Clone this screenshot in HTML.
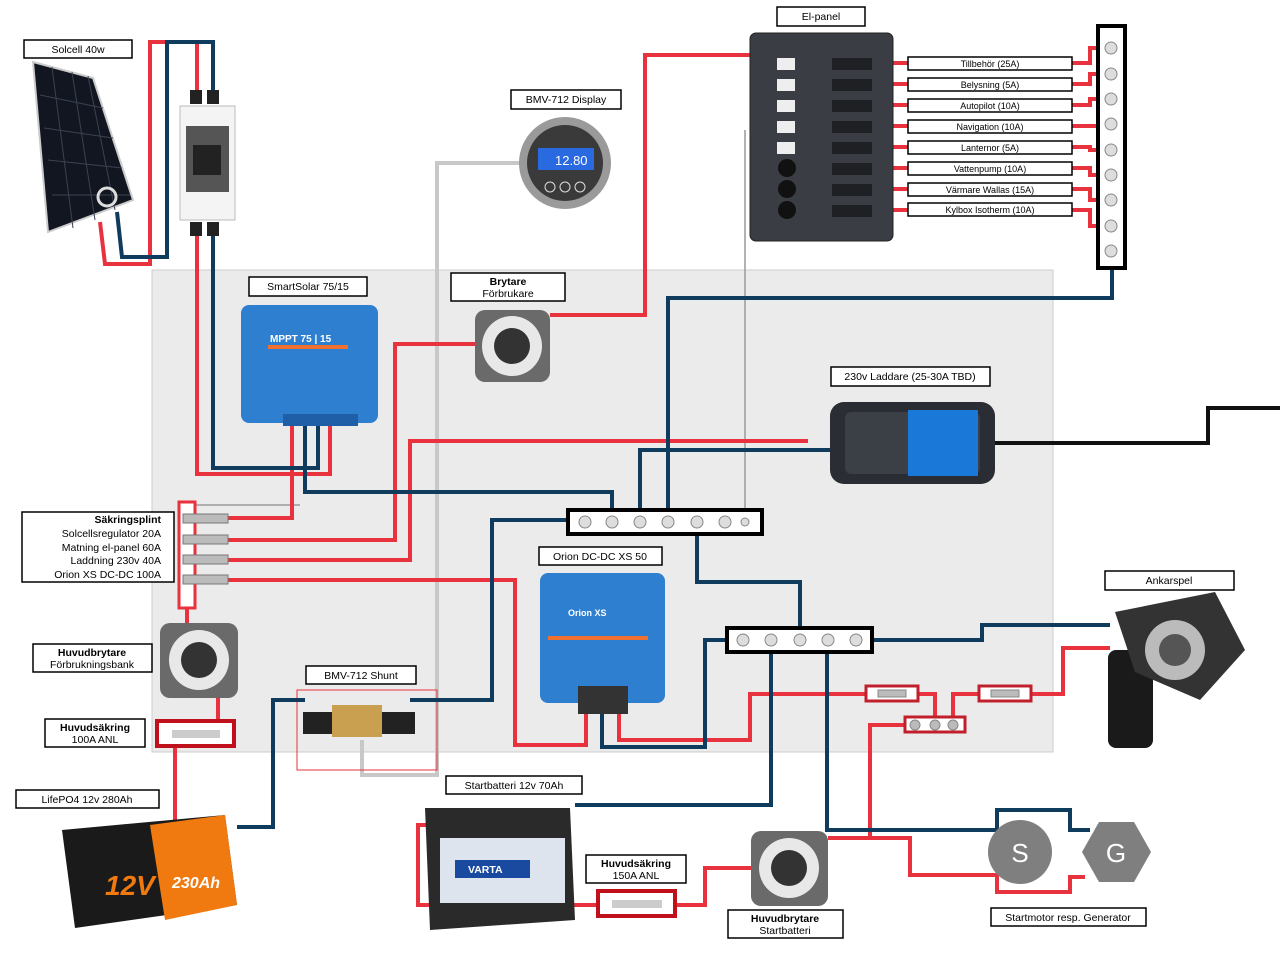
<!DOCTYPE html>
<html><head><meta charset="utf-8"><style>
body{margin:0;background:#fff;font-family:"Liberation Sans",sans-serif}
svg{display:block}
.l{fill:#fff;stroke:#000;stroke-width:1.5}
text{font-family:"Liberation Sans",sans-serif;font-size:10.5px;fill:#000}
.b{font-weight:bold}
.r{fill:none;stroke:#e8323e;stroke-width:4}
.u{fill:none;stroke:#0f3b5c;stroke-width:4}
</style></head><body>
<svg width="1280" height="957" viewBox="0 0 1280 957">
<rect x="152" y="270" width="901" height="482" fill="#ebebeb" stroke="#ccc"/>
<polyline points="520,163 437,163 437,775 362,775 362,740" fill="none" stroke="#c8c8c8" stroke-width="4"/>
<polyline points="745,520 745,130" fill="none" stroke="#999" stroke-width="1.5"/>
<polyline points="180,505 300,505" fill="none" stroke="#999" stroke-width="1.5"/>
<rect x="297" y="690" width="140" height="80" fill="none" stroke="#e8323e" stroke-width="1"/>
<!-- wires red -->
<polyline class="r" points="100,222 105,264 150,264 150,42 197,42 197,95"/>
<polyline class="r" points="197,225 197,474 330,474 330,425"/>
<polyline class="r" points="292,425 292,518 195,518"/>
<polyline class="r" points="195,540 395,540 395,344 475,344"/>
<polyline class="r" points="550,315 645,315 645,55 780,55"/>
<polyline class="r" points="195,560 410,560 410,441 808,441"/>
<polyline class="r" points="195,580 515,580 515,745 586,745 586,710"/>
<polyline class="r" points="619,710 619,740 750,740 750,694 866,694"/>
<polyline class="r" points="918,694 935,694 935,722"/>
<polyline class="r" points="979,694 953,694 953,722"/>
<polyline class="r" points="1032,694 1063,694 1063,648 1110,648"/>
<polyline class="r" points="905,725 870,725 870,838 828,838"/>
<polyline class="r" points="828,838 910,838 910,875 997,875 997,892 1070,892 1070,877 1085,877"/>
<polyline class="r" points="175,820 175,735"/>
<polyline class="r" points="187,608 187,625"/>
<polyline class="r" points="218,690 218,725"/>
<polyline class="r" points="455,825 418,825 418,905 600,905"/>
<polyline class="r" points="676,905 705,905 705,868 752,868"/>
<g class="r"><path d="M893,63H908M893,84H908M893,105H908M893,126H908M893,147H908M893,168H908M893,189H908M893,210H908"/>
<path d="M1072,63H1090V48H1110M1072,84H1090V74H1110M1072,105H1090V99H1110M1072,126H1110M1072,147H1090V150H1110M1072,168H1090V175H1110M1072,189H1090V200H1110M1072,210H1090V226H1110"/></g>
<!-- wires blue -->
<polyline class="u" points="117,212 122,257 167,257 167,42 213,42 213,95"/>
<polyline class="u" points="213,225 213,468 318,468 318,425"/>
<polyline class="u" points="305,425 305,492 612,492 612,520"/>
<polyline class="u" points="830,450 640,450 640,520"/>
<polyline class="u" points="668,520 668,298 1112,298 1112,255"/>
<polyline class="u" points="585,520 492,520 492,700 410,700"/>
<polyline class="u" points="697,535 697,582 800,582 800,640"/>
<polyline class="u" points="305,700 273,700 273,827 237,827"/>
<polyline class="u" points="743,640 705,640 705,747 602,747 602,710"/>
<polyline class="u" points="771,653 771,805 575,805"/>
<polyline class="u" points="827,653 827,830 997,830 997,810 1070,810 1070,830 1090,830"/>
<polyline class="u" points="873,640 982,640 982,625 1110,625"/>
<polyline points="995,443 1208,443 1208,408 1280,408" fill="none" stroke="#111" stroke-width="4"/>
<!-- solar panel -->
<polygon points="33,62 93,78 133,200 48,232" fill="#121620" stroke="#ccc" stroke-width="2"/>
<g stroke="#3a4252" stroke-width="1"><path d="M40,95L103,108M44,128L113,138M48,160L122,168M52,195L130,195"/><path d="M52,67L73,228M72,72L95,220M88,76L115,210"/></g>
<circle cx="107" cy="197" r="9" fill="none" stroke="#ddd" stroke-width="3"/>
<!-- breaker box -->
<rect x="180" y="106" width="55" height="114" fill="#f4f4f4" stroke="#bbb"/>
<rect x="186" y="126" width="43" height="66" fill="#555"/>
<rect x="193" y="145" width="28" height="30" fill="#222"/>
<rect x="190" y="90" width="12" height="14" fill="#222"/><rect x="207" y="90" width="12" height="14" fill="#222"/>
<rect x="190" y="222" width="12" height="14" fill="#222"/><rect x="207" y="222" width="12" height="14" fill="#222"/>
<!-- BMV display -->
<circle cx="565" cy="163" r="46" fill="#9a9a9a"/>
<circle cx="565" cy="163" r="38" fill="#3a3a3a"/>
<rect x="538" y="148" width="56" height="22" fill="#2a6ae0"/>
<text x="555" y="165" style="font-size:13px;fill:#fff">12.80</text>
<circle cx="550" cy="187" r="5" fill="none" stroke="#ddd"/><circle cx="565" cy="187" r="5" fill="none" stroke="#ddd"/><circle cx="580" cy="187" r="5" fill="none" stroke="#ddd"/>
<!-- El panel -->
<rect x="750" y="33" width="143" height="208" rx="6" fill="#3a3d44" stroke="#222"/>
<g fill="#eee"><rect x="777" y="58" width="18" height="12"/><rect x="777" y="79" width="18" height="12"/><rect x="777" y="100" width="18" height="12"/><rect x="777" y="121" width="18" height="12"/><rect x="777" y="142" width="18" height="12"/></g>
<g fill="#111"><circle cx="787" cy="168" r="9"/><circle cx="787" cy="189" r="9"/><circle cx="787" cy="210" r="9"/></g>
<g fill="#1f2024"><rect x="832" y="58" width="40" height="12"/><rect x="832" y="79" width="40" height="12"/><rect x="832" y="100" width="40" height="12"/><rect x="832" y="121" width="40" height="12"/><rect x="832" y="142" width="40" height="12"/><rect x="832" y="163" width="40" height="12"/><rect x="832" y="184" width="40" height="12"/><rect x="832" y="205" width="40" height="12"/></g>
<!-- right busbar -->
<rect x="1098" y="26" width="27" height="242" fill="#fff" stroke="#000" stroke-width="4"/>
<g fill="#ddd" stroke="#888"><circle cx="1111" cy="48" r="6"/><circle cx="1111" cy="74" r="6"/><circle cx="1111" cy="99" r="6"/><circle cx="1111" cy="124" r="6"/><circle cx="1111" cy="150" r="6"/><circle cx="1111" cy="175" r="6"/><circle cx="1111" cy="200" r="6"/><circle cx="1111" cy="226" r="6"/><circle cx="1111" cy="251" r="6"/></g>
<!-- SmartSolar -->
<rect x="241" y="305" width="137" height="118" rx="8" fill="#2f7fd0"/>
<rect x="268" y="345" width="80" height="4" fill="#f07030"/>
<text x="270" y="342" style="fill:#fff;font-size:10px;font-weight:bold">MPPT 75 | 15</text>
<rect x="283" y="414" width="75" height="12" fill="#1e5fa8"/>
<!-- Brytare switch -->
<rect x="475" y="310" width="75" height="72" rx="10" fill="#6a6a6a"/>
<circle cx="512" cy="346" r="30" fill="#e8e8e8"/><circle cx="512" cy="346" r="18" fill="#333"/>
<!-- charger -->
<rect x="830" y="402" width="165" height="82" rx="14" fill="#2a2d33"/>
<rect x="845" y="412" width="135" height="62" rx="6" fill="#3b3f46"/>
<rect x="908" y="410" width="70" height="66" fill="#1a78d8"/>
<!-- mid busbar -->
<rect x="568" y="510" width="194" height="24" fill="#fff" stroke="#000" stroke-width="4"/>
<g fill="#ddd" stroke="#888"><circle cx="585" cy="522" r="6"/><circle cx="612" cy="522" r="6"/><circle cx="640" cy="522" r="6"/><circle cx="668" cy="522" r="6"/><circle cx="697" cy="522" r="6"/><circle cx="725" cy="522" r="6"/><circle cx="745" cy="522" r="4"/></g>
<!-- Orion -->
<rect x="540" y="573" width="125" height="130" rx="8" fill="#2f7fd0"/>
<rect x="548" y="636" width="100" height="4" fill="#f07030"/>
<rect x="578" y="686" width="50" height="28" fill="#333"/>
<text x="568" y="616" style="fill:#fff;font-size:9px;font-weight:bold">Orion XS</text>
<!-- lower busbar -->
<rect x="727" y="628" width="145" height="24" fill="#fff" stroke="#000" stroke-width="4"/>
<g fill="#ddd" stroke="#888"><circle cx="743" cy="640" r="6"/><circle cx="771" cy="640" r="6"/><circle cx="800" cy="640" r="6"/><circle cx="828" cy="640" r="6"/><circle cx="856" cy="640" r="6"/></g>
<!-- small fuses -->
<g fill="#fff" stroke="#c0202c" stroke-width="3"><rect x="866" y="686" width="52" height="15"/><rect x="979" y="686" width="52" height="15"/><rect x="905" y="717" width="60" height="15"/></g>
<g fill="#bbb" stroke="#888"><rect x="878" y="690" width="28" height="7"/><rect x="991" y="690" width="28" height="7"/><circle cx="915" cy="725" r="5"/><circle cx="935" cy="725" r="5"/><circle cx="953" cy="725" r="5"/></g>
<!-- anchor winch -->
<rect x="1108" y="650" width="45" height="98" rx="8" fill="#1a1a1a"/>
<polygon points="1115,612 1215,592 1245,650 1200,700 1135,672" fill="#333"/>
<circle cx="1175" cy="650" r="30" fill="#bbb"/><circle cx="1175" cy="650" r="16" fill="#555"/>
<!-- fuse rail -->
<rect x="179" y="502" width="16" height="106" fill="#fff" stroke="#e8323e" stroke-width="3"/>
<g fill="#bbb" stroke="#777"><rect x="183" y="514" width="45" height="9"/><rect x="183" y="535" width="45" height="9"/><rect x="183" y="555" width="45" height="9"/><rect x="183" y="575" width="45" height="9"/></g>
<!-- huvudbrytare -->
<rect x="160" y="623" width="78" height="75" rx="10" fill="#6a6a6a"/>
<circle cx="199" cy="660" r="30" fill="#e8e8e8"/><circle cx="199" cy="660" r="18" fill="#333"/>
<rect x="157" y="721" width="77" height="25" fill="#fff" stroke="#c0101c" stroke-width="4"/>
<rect x="172" y="730" width="48" height="8" fill="#ccc"/>
<!-- shunt -->
<rect x="303" y="712" width="112" height="22" fill="#222"/><rect x="332" y="705" width="50" height="32" fill="#c9a050"/>
<!-- LiFePO4 -->
<polygon points="62,830 225,815 237,905 75,928" fill="#1a1a1a"/>
<polygon points="150,825 225,815 237,905 165,920" fill="#f07a10"/>
<text x="105" y="895" style="font-size:28px;font-weight:bold;fill:#f07a10;font-style:italic">12V</text>
<text x="172" y="888" style="font-size:16px;font-weight:bold;fill:#fff;font-style:italic">230Ah</text>
<!-- start battery -->
<polygon points="425,808 570,808 575,920 430,930" fill="#2a2a2a"/>
<rect x="440" y="838" width="125" height="65" fill="#dde4ee"/>
<rect x="455" y="860" width="75" height="18" fill="#1a4aa0"/>
<text x="468" y="873" style="fill:#fff;font-weight:bold">VARTA</text>
<!-- fuse 150 -->
<rect x="598" y="891" width="77" height="25" fill="#fff" stroke="#c0101c" stroke-width="4"/>
<rect x="612" y="900" width="50" height="8" fill="#ccc"/>
<!-- start switch -->
<rect x="751" y="831" width="77" height="75" rx="10" fill="#6a6a6a"/>
<circle cx="789" cy="868" r="30" fill="#e8e8e8"/><circle cx="789" cy="868" r="18" fill="#333"/>
<!-- S G -->
<circle cx="1020" cy="852" r="32" fill="#7f7f7f"/>
<text x="1020" y="862" text-anchor="middle" style="font-size:26px;fill:#fff">S</text>
<polygon points="1099,822 1134,822 1151,852 1134,882 1099,882 1082,852" fill="#7f7f7f"/>
<text x="1116" y="862" text-anchor="middle" style="font-size:26px;fill:#fff">G</text>
<!-- labels -->
<rect class="l" x="24" y="40" width="108" height="18"/><text x="78" y="53" text-anchor="middle">Solcell 40w</text>
<rect class="l" x="777" y="7" width="88" height="19"/><text x="821" y="20" text-anchor="middle">El-panel</text>
<rect class="l" x="511" y="90" width="110" height="19"/><text x="566" y="103" text-anchor="middle">BMV-712 Display</text>
<rect class="l" x="249" y="277" width="118" height="19"/><text x="308" y="290" text-anchor="middle">SmartSolar 75/15</text>
<rect class="l" x="451" y="273" width="114" height="28"/><text x="508" y="285" text-anchor="middle" class="b">Brytare</text><text x="508" y="297" text-anchor="middle">Förbrukare</text>
<rect class="l" x="831" y="367" width="159" height="19"/><text x="910" y="380" text-anchor="middle">230v Laddare (25-30A TBD)</text>
<rect class="l" x="22" y="512" width="152" height="70"/>
<text x="161" y="523" text-anchor="end" class="b">Säkringsplint</text><text x="161" y="537" text-anchor="end">Solcellsregulator 20A</text><text x="161" y="551" text-anchor="end">Matning el-panel 60A</text><text x="161" y="564" text-anchor="end">Laddning 230v 40A</text><text x="161" y="578" text-anchor="end">Orion XS DC-DC 100A</text>
<rect class="l" x="539" y="547" width="123" height="18"/><text x="600" y="560" text-anchor="middle">Orion DC-DC XS 50</text>
<rect class="l" x="1105" y="571" width="129" height="19"/><text x="1169" y="584" text-anchor="middle">Ankarspel</text>
<rect class="l" x="33" y="644" width="119" height="28"/><text x="92" y="656" text-anchor="middle" class="b">Huvudbrytare</text><text x="92" y="668" text-anchor="middle">Förbrukningsbank</text>
<rect class="l" x="306" y="666" width="110" height="18"/><text x="361" y="679" text-anchor="middle">BMV-712 Shunt</text>
<rect class="l" x="45" y="719" width="100" height="28"/><text x="95" y="731" text-anchor="middle" class="b">Huvudsäkring</text><text x="95" y="743" text-anchor="middle">100A ANL</text>
<rect class="l" x="16" y="790" width="143" height="18"/><text x="87" y="803" text-anchor="middle">LifePO4 12v 280Ah</text>
<rect class="l" x="446" y="776" width="136" height="18"/><text x="514" y="789" text-anchor="middle">Startbatteri 12v 70Ah</text>
<rect class="l" x="586" y="855" width="100" height="28"/><text x="636" y="867" text-anchor="middle" class="b">Huvudsäkring</text><text x="636" y="879" text-anchor="middle">150A ANL</text>
<rect class="l" x="728" y="910" width="115" height="28"/><text x="785" y="922" text-anchor="middle" class="b">Huvudbrytare</text><text x="785" y="934" text-anchor="middle">Startbatteri</text>
<rect class="l" x="991" y="908" width="155" height="18"/><text x="1068" y="921" text-anchor="middle">Startmotor resp. Generator</text>
<rect class="l" x="908" y="57" width="164" height="13"/><text x="990" y="67" text-anchor="middle" style="font-size:9px">Tillbehör (25A)</text>
<rect class="l" x="908" y="78" width="164" height="13"/><text x="990" y="88" text-anchor="middle" style="font-size:9px">Belysning (5A)</text>
<rect class="l" x="908" y="99" width="164" height="13"/><text x="990" y="109" text-anchor="middle" style="font-size:9px">Autopilot (10A)</text>
<rect class="l" x="908" y="120" width="164" height="13"/><text x="990" y="130" text-anchor="middle" style="font-size:9px">Navigation (10A)</text>
<rect class="l" x="908" y="141" width="164" height="13"/><text x="990" y="151" text-anchor="middle" style="font-size:9px">Lanternor (5A)</text>
<rect class="l" x="908" y="162" width="164" height="13"/><text x="990" y="172" text-anchor="middle" style="font-size:9px">Vattenpump (10A)</text>
<rect class="l" x="908" y="183" width="164" height="13"/><text x="990" y="193" text-anchor="middle" style="font-size:9px">Värmare Wallas (15A)</text>
<rect class="l" x="908" y="203" width="164" height="13"/><text x="990" y="213" text-anchor="middle" style="font-size:9px">Kylbox Isotherm (10A)</text>
</svg>
</body></html>
